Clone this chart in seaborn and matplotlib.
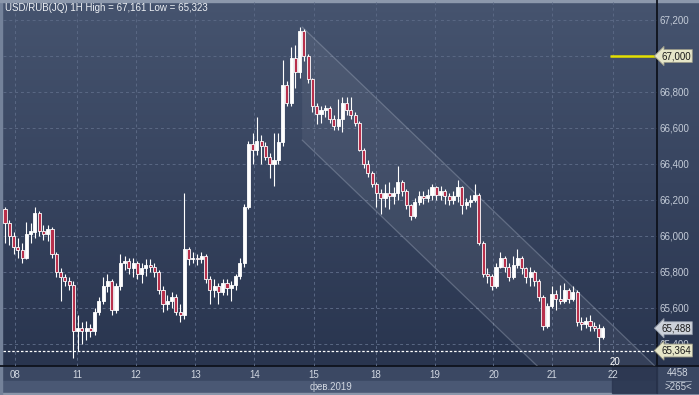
import numpy as np
import pandas as pd
import matplotlib
matplotlib.use("Agg")
import matplotlib.pyplot as plt
import matplotlib.transforms as mtransforms
from matplotlib.colors import LinearSegmentedColormap
from matplotlib.patches import Rectangle
import seaborn as sns

sns.set_style("dark")
plt.rcParams['font.family'] = ['Liberation Sans', 'DejaVu Sans']

# hourly candles, USD/RUB
opens = [66150, 66070, 66000, 65940, 65920, 65880, 66010, 66020, 66130, 66030,
         66010, 66040, 65900, 65800, 65770, 65750, 65730, 65470, 65490, 65470,
         65490, 65470, 65580, 65640, 65720, 65750, 65590, 65720, 65850, 65860,
         65820, 65850, 65790, 65820, 65840, 65830, 65800, 65700, 65620, 65640,
         65660, 65580, 65560, 65930, 65870, 65880, 65870, 65890, 65760, 65700,
         65720, 65690, 65740, 65710, 65730, 65780, 65850, 66160, 66510, 66480,
         66530, 66500, 66440, 66400, 66420, 66520, 66840, 66740, 66990, 66910,
         67140, 67000, 66870, 66720, 66680, 66700, 66710, 66650, 66610, 66650,
         66740, 66700, 66670, 66630, 66480, 66400, 66350, 66290, 66240, 66210,
         66240, 66220, 66240, 66300, 66250, 66170, 66110, 66190, 66220, 66210,
         66230, 66270, 66230, 66250, 66220, 66200, 66220, 66270, 66170, 66190,
         66200, 66230, 65960, 65790, 65780, 65720, 65830, 65880, 65830, 65770,
         65840, 65880, 65820, 65770, 65800, 65750, 65660, 65500, 65610, 65680,
         65650, 65640, 65700, 65650, 65690, 65520, 65510, 65530, 65500, 65490,
         65440]
closes = [66070, 66000, 65940, 65920, 65880, 66010, 66030, 66130, 66030, 66010,
          66040, 65900, 65800, 65770, 65750, 65730, 65470, 65490, 65470, 65490,
          65470, 65580, 65640, 65720, 65750, 65590, 65720, 65850, 65860, 65820,
          65850, 65790, 65820, 65840, 65830, 65800, 65700, 65620, 65640, 65660,
          65580, 65560, 65930, 65870, 65880, 65870, 65890, 65760, 65700, 65720,
          65690, 65740, 65710, 65730, 65780, 65850, 66160, 66510, 66480, 66530,
          66500, 66440, 66400, 66420, 66520, 66840, 66740, 66990, 66910, 67140,
          67000, 66870, 66720, 66680, 66700, 66710, 66650, 66610, 66650, 66740,
          66700, 66670, 66630, 66480, 66400, 66350, 66290, 66240, 66210, 66240,
          66220, 66240, 66300, 66250, 66170, 66110, 66190, 66220, 66210, 66230,
          66270, 66230, 66250, 66220, 66200, 66220, 66270, 66170, 66190, 66200,
          66230, 65960, 65790, 65780, 65720, 65830, 65880, 65830, 65770, 65840,
          65880, 65820, 65770, 65800, 65750, 65660, 65500, 65610, 65680, 65650,
          65640, 65700, 65650, 65690, 65520, 65510, 65530, 65500, 65490, 65440,
          65488]
highs = [66160, 66090, 66020, 65990, 65960, 66080, 66070, 66160, 66140, 66060,
         66060, 66050, 65910, 65820, 65790, 65770, 65750, 65560, 65520, 65530,
         65510, 65600, 65660, 65770, 65790, 65760, 65740, 65900, 65890, 65880,
         65880, 65860, 65850, 65870, 65870, 65850, 65810, 65720, 65670, 65690,
         65680, 65620, 66240, 65940, 65910, 65900, 65910, 65900, 65780, 65760,
         65740, 65760, 65760, 65750, 65790, 65880, 66180, 66530, 66570, 66660,
         66560, 66520, 66460, 66570, 66570, 66980, 66860, 67050, 67060, 67161,
         67150, 67010, 66880, 66740, 66720, 66730, 66720, 66670, 66760, 66770,
         66770, 66770, 66690, 66640, 66490, 66420, 66360, 66300, 66260, 66290,
         66300, 66270, 66390, 66310, 66260, 66180, 66210, 66250, 66250, 66260,
         66290, 66280, 66280, 66260, 66240, 66250, 66310, 66280, 66210, 66230,
         66290, 66240, 65970, 65820, 65790, 65850, 65910, 65890, 65850, 65890,
         65930, 65890, 65830, 65830, 65810, 65760, 65670, 65630, 65720, 65700,
         65730, 65740, 65710, 65720, 65700, 65550, 65550, 65560, 65520, 65510,
         65500]
lows = [65960, 65950, 65900, 65880, 65850, 65870, 65960, 65990, 66000, 65980,
        65970, 65880, 65770, 65640, 65720, 65700, 65323, 65360, 65400, 65420,
        65440, 65450, 65560, 65620, 65690, 65560, 65570, 65700, 65810, 65790,
        65770, 65760, 65740, 65780, 65800, 65770, 65680, 65580, 65590, 65600,
        65560, 65520, 65540, 65840, 65850, 65840, 65850, 65740, 65620, 65660,
        65620, 65670, 65670, 65640, 65700, 65760, 65830, 66150, 66400, 66450,
        66400, 66420, 66320, 66280, 66400, 66500, 66720, 66720, 66820, 66880,
        66970, 66850, 66690, 66620, 66630, 66660, 66630, 66590, 66590, 66580,
        66670, 66650, 66610, 66470, 66380, 66330, 66270, 66160, 66120, 66160,
        66150, 66180, 66200, 66220, 66150, 66090, 66100, 66170, 66180, 66190,
        66200, 66200, 66200, 66180, 66170, 66180, 66190, 66120, 66150, 66160,
        66190, 65950, 65770, 65740, 65700, 65710, 65820, 65800, 65750, 65760,
        65820, 65790, 65740, 65720, 65720, 65640, 65480, 65490, 65600, 65590,
        65620, 65630, 65630, 65640, 65500, 65480, 65490, 65470, 65470, 65364,
        65430]

day_labels = ['08', '11', '12', '13', '14', '15', '18', '19', '20', '21', '22']
day_pos = [2.3, 16.9, 30.7, 44.6, 58.4, 72.4, 86.8, 100.7, 114.4, 128.2, 142.4]
price_ticks = [65400, 65600, 65800, 66000, 66200, 66400, 66600, 66800, 67000, 67200]
price_labels = ['65,400', '65,600', '65,800', '66,000', '66,200', '66,400',
                '66,600', '66,800', '67,000', '67,200']

# drawn trend channel
chan_start = 69.6
chan_top = 67161
chan_bottom = 66533
chan_slope = -22.8

level_line = 67000
last_price = 65488
low_line = 65364

W, H = 699, 395
PLOT_BOTTOM = 366
X_LO, X_HI = -0.47, 152.7
Y_LO, Y_HI = 65278, 67300


def rect(x0, y0, x1, y1):
    return [x0 / W, 1 - y1 / H, (x1 - x0) / W, (y1 - y0) / H]


fig = plt.figure(figsize=(W / 100, H / 100), dpi=100)

# background in pixel coordinates
bg = fig.add_axes([0, 0, 1, 1])
bg.set_xlim(0, W)
bg.set_ylim(H, 0)
bg.axis('off')
cmap = LinearSegmentedColormap.from_list('bg', ['#46546f', '#37445f', '#29354f'])
bg.imshow(np.linspace(0, 1, 256).reshape(-1, 1), cmap=cmap, aspect='auto',
          extent=(0, W, PLOT_BOTTOM, 0), zorder=0)
bg.add_patch(Rectangle((0, PLOT_BOTTOM), W, 15, color='#3b4863', zorder=1))
bg.add_patch(Rectangle((0, 381), W, 12, color='#4a5874', zorder=1))
bg.add_patch(Rectangle((0, 393), W, 2, color='#8a96aa', zorder=1))
bg.add_patch(Rectangle((657, PLOT_BOTTOM), 42, 27, color='#3a4762', zorder=2))
bg.add_patch(Rectangle((0, 0), 2, H, color='#74829a', zorder=3))
bg.add_patch(Rectangle((0, 0), W, 1.5, color='#8c98ac', zorder=3))
bg.plot([0, W], [PLOT_BOTTOM, PLOT_BOTTOM], color='#0e121c', lw=1.3, zorder=4)
bg.plot([657, 657], [0, 393], color='#0e121c', lw=1.3, zorder=4)
bg.plot([666, 691], [380.5, 380.5], color='#8c98ac', lw=0.7, zorder=4)
bg.text(678, 373, '4458', color='#d0d6e0', fontsize=7, ha='center', va='center', zorder=5)
bg.text(678, 387, '>265<', color='#d0d6e0', fontsize=7, ha='center', va='center', zorder=5)
bg.text(331, 387, 'фев.2019', color='#d0d6e0', fontsize=7, ha='center', va='center', zorder=5)

# main price panel
ax = fig.add_axes(rect(3, 2, 657, PLOT_BOTTOM))
ax.set_facecolor('none')
ax.set_xlim(X_LO, X_HI)
ax.set_ylim(Y_LO, Y_HI)
ax.set_xticks([])
ax.set_yticks([])
for s in ax.spines.values():
    s.set_visible(False)
ax.grid(False)

grid_c = '#5a6884'
ax.hlines(price_ticks, X_LO, X_HI, color=grid_c, lw=0.7, ls=(0, (3, 3)), zorder=1)
ax.vlines(day_pos, Y_LO, Y_HI, color=grid_c, lw=0.7, ls=(0, (3, 3)), zorder=1)

# channel
cx = np.array([chan_start, X_HI])
c_up = chan_top + chan_slope * (cx - chan_start)
c_dn = chan_bottom + chan_slope * (cx - chan_start)
ax.fill_between(cx, c_dn, c_up, color='white', alpha=0.06, lw=0, zorder=2)
chan = pd.DataFrame({'x': np.concatenate([cx, cx]),
                     'y': np.concatenate([c_up, c_dn]),
                     'edge': ['top'] * 2 + ['bottom'] * 2})
sns.lineplot(data=chan, x='x', y='y', units='edge', estimator=None,
             color='#a4aec0', lw=0.9, alpha=0.38, ax=ax, zorder=2)
ax.set_xlabel('')
ax.set_ylabel('')
ax.set_xlim(X_LO, X_HI)
ax.set_ylim(Y_LO, Y_HI)

# candles
idx = np.arange(len(closes))
o = np.array(opens)
c = np.array(closes)
ax.vlines(idx, lows, highs, color='white', lw=0.8, zorder=3)
body_lo = np.minimum(o, c)
body_h = np.abs(c - o)
fill = np.where(c < o, '#b8304c', '#ffffff')
ax.bar(idx, body_h, bottom=body_lo, width=0.72, color=fill,
       edgecolor='white', linewidth=0.6, zorder=4)

ax.hlines(level_line, 141.7, X_HI, color='#e4e000', lw=1.8, zorder=5)
ax.axhline(low_line, color='white', lw=0.9, ls=(0, (2, 1.5)), zorder=5)
ax.text(141.7, 65300, '20', color='white', fontsize=7, ha='left', va='center', zorder=6)
ax.text(0.003, 0.984, 'USD/RUB(JQ) 1H High = 67,161 Low = 65,323', transform=ax.transAxes,
        color='#eef1f5', fontsize=7, ha='left', va='center', zorder=6)

# day labels under the chart
tr = mtransforms.blended_transform_factory(ax.transData, bg.transData)
for p, lab in zip(day_pos, day_labels):
    ax.text(p, 375, lab, transform=tr, color='#d0d6e0', fontsize=7,
            ha='center', va='center', clip_on=False, zorder=6)
bg.add_patch(Rectangle((612, 367), 44.5, 26, color='#2b3650', alpha=0.85, zorder=7))

# right price axis; 67,000 is shown by its level box
axr = fig.add_axes(rect(657, 2, W, PLOT_BOTTOM))
axr.set_facecolor('none')
axr.set_xlim(0, 1)
axr.set_ylim(Y_LO, Y_HI)
axr.axis('off')
for p, lab in zip(price_ticks, price_labels):
    if p == level_line:
        continue
    axr.text(0.07, p, lab, color='#c4ccd8', fontsize=7, ha='left', va='center', zorder=3)
box_kw = dict(fontsize=7, ha='left', va='center', color='#1a1a1a', zorder=5)
axr.text(0.1, level_line, '67,000',
         bbox=dict(boxstyle='larrow,pad=0.15', fc='#e6e6c8', ec='#9a9a88', lw=0.6), **box_kw)
axr.text(0.1, last_price, '65,488',
         bbox=dict(boxstyle='larrow,pad=0.15', fc='#cdd2da', ec='#8f97a6', lw=0.6), **box_kw)
axr.text(0.1, low_line, '65,364',
         bbox=dict(boxstyle='larrow,pad=0.15', fc='#e6e6c8', ec='#9a9a88', lw=0.6), **box_kw)

fig.savefig('out.png', dpi=100)
